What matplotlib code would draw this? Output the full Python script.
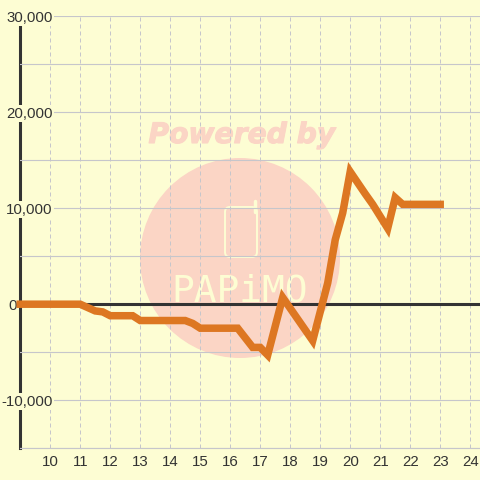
import matplotlib
matplotlib.use("Agg")
import matplotlib.pyplot as plt
import matplotlib.patheffects as pe
from matplotlib.patches import Circle, FancyBboxPatch
from matplotlib.ticker import MultipleLocator, FuncFormatter

plt.rcParams["font.family"] = ["Liberation Sans", "DejaVu Sans"]

BG = "#fdfdd3"
GRID = "#c6c6cb"
DARK = "#333333"
ORANGE = "#dd7722"
WATERMARK = "#fbd5c5"

hours = [9, 11, 11.5, 11.75, 12, 12.75, 13, 14.5, 14.75, 15, 16.25, 16.75,
         17, 17.25, 17.75, 18.75, 19.25, 19.5, 19.75, 20, 20.5, 20.75, 21.25,
         21.5, 21.75, 23]
values = [0, 0, -700, -800, -1200, -1200, -1700, -1700, -2000, -2500, -2500, -4500,
          -4500, -5300, 700, -3800, 2200, 6700, 9500, 13800, 11500, 10400, 7900,
          11100, 10400, 10400]
x_ticks = list(range(10, 25))

fig = plt.figure(figsize=(4.8, 4.8), dpi=100, facecolor=BG)

# --- watermark sits behind the chart, in pixel coords ---
wm = fig.add_axes([0, 0, 1, 1], zorder=0)
wm.set_xlim(0, 480)
wm.set_ylim(480, 0)
wm.axis("off")
wm.add_patch(Circle((240, 258), 100, fc=WATERMARK, ec="none"))
wm.text(242, 135, "Powered by", color=WATERMARK, fontsize=20.3, family="DejaVu Sans",
        fontweight="bold", fontstyle="italic", ha="center", va="center",
        path_effects=[pe.withStroke(linewidth=0.8, foreground=WATERMARK)])
wm.add_patch(FancyBboxPatch((227, 209), 28, 46, boxstyle="round,pad=2,rounding_size=5",
                            fc="none", ec=BG, lw=1.4))
wm.plot([255, 255], [201, 212], color=BG, lw=2.5, solid_capstyle="round")
wm.text(240, 291, "PAPiMO", color=BG, fontsize=27.3, family="DejaVu Sans Mono",
        ha="center", va="center")

# --- main chart ---
ax = fig.add_axes([20.2 / 480, 31.8 / 480, 460 / 480, 432 / 480], zorder=1)
ax.patch.set_visible(False)
ax.set_xlim(9, 9 + 460 / 30)
ax.set_ylim(-15000, 30000)

ax.yaxis.set_major_locator(MultipleLocator(10000))
ax.yaxis.set_minor_locator(MultipleLocator(5000))
ax.yaxis.set_major_formatter(FuncFormatter(lambda v, _: f"{v:,.0f}"))
ax.set_xticks(x_ticks)
ax.grid(axis="y", which="both", color=GRID, lw=0.8)
ax.grid(axis="x", color=GRID, lw=0.72, linestyle=(0, (4, 3)))
ax.tick_params(axis="both", which="both", length=0, labelsize=10.8, labelcolor=DARK)
ax.tick_params(axis="x", pad=5)
ax.tick_params(axis="y", pad=-23.5)

for sp in ["top", "right"]:
    ax.spines[sp].set_visible(False)
ax.spines["bottom"].set_color(GRID)
ax.spines["bottom"].set_linewidth(0.8)
ax.spines["left"].set_color(DARK)
ax.spines["left"].set_linewidth(2.2)
ax.spines["left"].set_zorder(1)

ax.axhline(0, color=DARK, lw=2.2, zorder=3)
ax.plot(hours, values, color=ORANGE, lw=5.4, zorder=4, clip_on=False,
        solid_capstyle="projecting", solid_joinstyle="miter")

fig.canvas.draw()
for tick in ax.yaxis.get_major_ticks():
    lab = tick.label1
    lab.set_bbox(dict(fc=BG, ec="none", pad=1))
    if tick.get_loc() == 0:
        lab.set_x(-36 / 460)  # the 0 label sits left of the axis

fig.savefig("out.png", dpi=100, facecolor=BG)
